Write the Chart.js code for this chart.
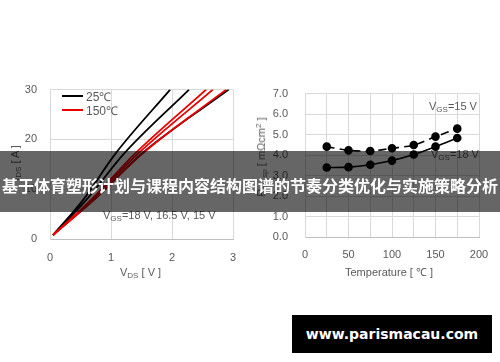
<!DOCTYPE html>
<html>
<head>
<meta charset="utf-8">
<script src="https://cdn.jsdelivr.net/npm/chart.js@4.4.1/dist/chart.umd.min.js"></script>
<style>
    html, body { margin: 0; padding: 0; background: #fff; }
    #page { position: relative; width: 500px; height: 362px; overflow: hidden; background: #fff;
            font-family: "Liberation Sans", Arial, sans-serif; color: #595959; }
    .box { position: absolute; top: 70px; width: 250px; height: 220px; }
    .lbl { position: absolute; font-size: 11px; white-space: nowrap; line-height: 12px; }
    .lbl sub { font-size: 8px; vertical-align: -2px; }
    .lbl sup { font-size: 8px; vertical-align: 4px; }
    .rot { transform: translate(-50%, -50%) rotate(-90deg); }
    .legline { position: absolute; height: 2px; width: 21px; }
    #banner { position: absolute; left: 0; top: 151px; width: 500px; height: 61px; background: rgba(0,0,0,0.6); }
    #bannerText { position: absolute; left: 0; top: 174px; width: 500px; text-align: center; color: #fff;
                  font: bold 16px "Noto Sans CJK SC", sans-serif; line-height: 22px; white-space: nowrap; }
    #mark { position: absolute; left: 292px; top: 315px; width: 200px; height: 38px; background: #000;
            color: #fff; font: bold 14px "DejaVu Sans", sans-serif; line-height: 38px; text-align: center; }
</style>
</head>
<body>
<div id="page">
    <div class="box" style="left:0"><canvas id="ivChart" width="250" height="220"></canvas></div>
    <div class="box" style="left:250px"><canvas id="ronChart" width="250" height="220"></canvas></div>

    <!-- left chart texts -->
    <div class="legline" style="left:62px; top:95px; background:#000"></div>
    <div class="lbl" style="left:86px; top:91px; font-size:12px">25℃</div>
    <div class="legline" style="left:62px; top:109px; background:rgb(235,0,0)"></div>
    <div class="lbl" style="left:86px; top:105px; font-size:12px">150℃</div>
    <div class="lbl" style="left:103px; top:209px">V<sub>GS</sub>=18 V, 16.5 V, 15 V</div>
    <div class="lbl" style="left:120px; top:266px">V<sub>DS</sub> [ V ]</div>
    <div class="lbl rot" style="left:17px; top:163px">I<sub>DS</sub> [ A ]</div>

    <!-- right chart texts -->
    <div class="lbl" style="left:429px; top:100px">V<sub>GS</sub>=15 V</div>
    <div class="lbl" style="left:431px; top:148px">V<sub>GS</sub>=18 V</div>
    <div class="lbl" style="left:345px; top:266px">Temperature [ ℃ ]</div>
    <div class="lbl rot" style="left:262px; top:157px">R<sub>on,sp</sub> [ mΩcm<sup>2</sup> ]</div>

    <div id="banner"></div>
    <div id="bannerText">基于体育塑形计划与课程内容结构图谱的节奏分类优化与实施策略分析</div>
    <div id="mark">www.parismacau.com</div>
</div>

<script>
// ===== data: I-V curves [V_DS, I_DS] =====
const iv25_18V  = [[0.05, 0.8], [0.54, 7.8], [1.07, 17.1], [1.97, 30]];
const iv25_165V = [[0.05, 0.8], [0.62, 8.2], [1.21, 17.1], [2.28, 30]];
const iv25_15V  = [[0.05, 0.8], [0.75, 8.2], [1.50, 17.1], [2.93, 30]];
const iv150_18V  = [[0.05, 0.8], [0.70, 8.2], [1.39, 17.1], [2.56, 30]];
const iv150_165V = [[0.05, 0.8], [0.72, 8.2], [1.44, 17.1], [2.67, 30]];
const iv150_15V  = [[0.05, 0.8], [0.75, 8.2], [1.51, 17.1], [2.89, 30]];
const vdsTicks = [0, 1, 2, 3];
const idsTicks = [0, 10, 20, 30];

// ===== data: on-resistance vs temperature =====
const temps   = [25, 50, 75, 100, 125, 150, 175];
const ron15V  = [4.41, 4.23, 4.2, 4.33, 4.49, 4.9, 5.29];
const ron18V  = [3.39, 3.41, 3.53, 3.73, 4.03, 4.41, 4.83];

const GRID = '#d9d9d9';
const TXT = '#595959';
const RED = 'rgb(235,0,0)';
const tickFont = { family: 'Liberation Sans', size: 11 };

function pts(arr) { return arr.map(p => ({ x: p[0], y: p[1] })); }
function ivSet(arr, color) {
    return { data: pts(arr), borderColor: color, borderWidth: 1.8, pointRadius: 0,
             cubicInterpolationMode: 'monotone', fill: false };
}

// ---- left: I-V ----
new Chart(document.getElementById('ivChart'), {
    type: 'line',
    data: {
        datasets: [
            ivSet(iv150_18V, RED), ivSet(iv150_165V, RED), ivSet(iv150_15V, RED),
            ivSet(iv25_18V, '#000'), ivSet(iv25_165V, '#000'), ivSet(iv25_15V, '#000')
        ]
    },
    options: {
        responsive: false,
        animation: false,
        layout: { padding: { left: 0, right: 17, top: 13, bottom: 0 } },
        plugins: { legend: { display: false }, tooltip: { enabled: false } },
        scales: {
            x: {
                type: 'linear', min: 0, max: 3,
                afterBuildTicks: s => { s.ticks = vdsTicks.map(v => ({ value: v })); },
                afterFit: s => { s.height = 51; },
                grid: { color: GRID, drawTicks: false },
                border: { color: '#bfbfbf' },
                ticks: { color: TXT, font: tickFont, padding: 12, maxRotation: 0 }
            },
            y: {
                min: 0, max: 30,
                afterBuildTicks: s => { s.ticks = idsTicks.map(v => ({ value: v })); },
                afterFit: s => { s.width = 50; },
                grid: { color: GRID, drawTicks: false },
                border: { color: GRID },
                ticks: { color: TXT, font: tickFont, padding: 13 }
            }
        }
    }
});

// ---- right: R_on vs temperature ----
new Chart(document.getElementById('ronChart'), {
    type: 'line',
    data: {
        datasets: [
            { data: temps.map((t, i) => ({ x: t, y: ron15V[i] })), borderColor: '#000', backgroundColor: '#000',
              borderWidth: 1.6, borderDash: [8, 5], pointRadius: 3.5, tension: 0.3 },
            { data: temps.map((t, i) => ({ x: t, y: ron18V[i] })), borderColor: '#000', backgroundColor: '#000',
              borderWidth: 1.6, pointRadius: 3.5, tension: 0.3 }
        ]
    },
    options: {
        responsive: false,
        animation: false,
        layout: { padding: { left: 0, right: 21, top: 13, bottom: 0 } },
        plugins: { legend: { display: false }, tooltip: { enabled: false } },
        scales: {
            x: {
                type: 'linear', min: 0, max: 200,
                ticks: { stepSize: 25, color: TXT, font: tickFont, padding: 11,
                         maxRotation: 0, minRotation: 0, autoSkip: false,
                         callback: v => (v % 50 === 0 ? v : '') },
                afterFit: s => { s.height = 53; },
                grid: { color: GRID, drawTicks: false },
                border: { color: '#bfbfbf' }
            },
            y: {
                min: 0, max: 7,
                ticks: { stepSize: 1, color: TXT, font: tickFont, padding: 17, callback: v => v.toFixed(1) },
                afterFit: s => { s.width = 55; },
                grid: { color: GRID, drawTicks: false },
                border: { color: GRID }
            }
        }
    }
});
</script>
</body>
</html>
